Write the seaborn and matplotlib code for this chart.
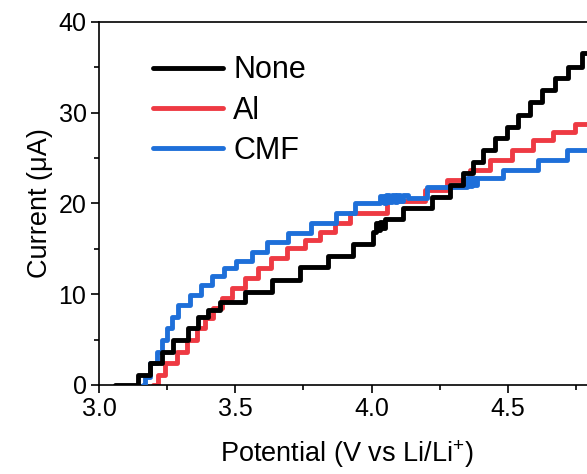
import matplotlib
matplotlib.use("Agg")
import matplotlib.pyplot as plt
import seaborn as sns
import numpy as np
import pandas as pd
from matplotlib.ticker import MultipleLocator, FormatStrFormatter

# ---- data ----
series_names = ["None", "Al", "CMF"]

none_v = [3.059, 3.143, 3.187, 3.231, 3.272, 3.327, 3.363, 3.400, 3.444, 3.536,
          3.635, 3.738, 3.840, 3.932, 4.006, 4.018, 4.024, 4.032, 4.038, 4.050,
          4.116, 4.222, 4.288, 4.336, 4.372, 4.409, 4.453, 4.497, 4.538, 4.582,
          4.626, 4.673, 4.721, 4.772, 4.85]
none_i = [0.0, 1.1, 2.4, 3.6, 5.0, 6.3, 7.5, 8.3, 9.1, 10.2,
          11.6, 13.0, 14.2, 15.5, 16.9, 17.9, 17.1, 18.0, 17.3, 18.3,
          19.5, 20.7, 22.0, 23.4, 24.6, 25.9, 27.2, 28.4, 29.8, 31.2,
          32.5, 33.8, 35.0, 36.6, 36.6]

al_v = [3.198, 3.217, 3.242, 3.286, 3.323, 3.360, 3.389, 3.418, 3.451, 3.488,
        3.536, 3.583, 3.631, 3.690, 3.756, 3.811, 3.866, 3.921, 4.057, 4.196,
        4.277, 4.361, 4.435, 4.516, 4.593, 4.666, 4.747, 4.85]
al_i = [0.0, 1.1, 2.4, 3.6, 5.0, 6.3, 7.4, 8.5, 9.6, 10.7,
        11.8, 12.9, 14.0, 15.1, 16.0, 16.9, 17.8, 18.9, 20.3, 21.5,
        22.6, 23.7, 24.8, 25.9, 27.0, 27.9, 28.8, 28.8]

cmf_v = [3.161, 3.169, 3.187, 3.213, 3.231, 3.250, 3.268, 3.290, 3.334, 3.374,
         3.415, 3.459, 3.503, 3.561, 3.617, 3.694, 3.778, 3.870, 3.939, 4.031,
         4.045, 4.055, 4.065, 4.075, 4.085, 4.095, 4.105, 4.115, 4.134, 4.204,
         4.350, 4.360, 4.370, 4.378, 4.387, 4.483, 4.611, 4.717, 4.85]
cmf_i = [0.0, 0.9, 2.4, 3.6, 5.0, 6.3, 7.5, 8.8, 9.9, 11.0,
         12.0, 12.9, 13.7, 14.7, 15.8, 16.7, 17.9, 18.9, 20.0, 20.8,
         20.1, 20.9, 20.2, 20.9, 20.2, 20.9, 20.3, 20.9, 20.6, 21.8,
         22.8, 21.9, 22.8, 22.0, 22.8, 23.7, 24.8, 25.9, 25.9]

x_ticks = [3.0, 3.5, 4.0, 4.5]
y_ticks = [0, 10, 20, 30, 40]

colors = {"None": "#000000", "Al": "#EE3A43", "CMF": "#1E6FD9"}

# ---- style ----
sns.set_theme(style="ticks")
plt.rcParams['font.family'] = ['Liberation Sans', 'DejaVu Sans']
plt.rcParams['mathtext.fontset'] = 'custom'
plt.rcParams['mathtext.rm'] = 'Liberation Sans'
plt.rcParams['mathtext.it'] = 'Liberation Sans:italic'
plt.rcParams['mathtext.bf'] = 'Liberation Sans:bold'

W, H = 587, 474
XMAX = 4.82
fig = plt.figure(figsize=(W / 100, H / 100), dpi=100)
ax = fig.add_axes([99 / W, 89 / H, (XMAX - 3.0) * 272.5 / W, 363 / H])

lw = 3.5
data = {
    "None": (none_v, none_i, 4),
    "Al": (al_v, al_i, 2),
    "CMF": (cmf_v, cmf_i, 3),
}
handles = {}
for name in ["Al", "CMF", "None"]:
    v, i, z = data[name]
    df = pd.DataFrame({"V": v, "I": i})
    sns.lineplot(data=df, x="V", y="I", ax=ax, color=colors[name], lw=lw,
                 drawstyle="steps-post", estimator=None, sort=False,
                 zorder=z, label=name)
    handles[name] = ax.lines[-1]

ax.set_xlim(3.0, XMAX)
ax.set_ylim(0, 40)
ax.set_xticks(x_ticks)
ax.set_yticks(y_ticks)
ax.xaxis.set_minor_locator(MultipleLocator(0.25))
ax.yaxis.set_minor_locator(MultipleLocator(5))
ax.xaxis.set_major_formatter(FormatStrFormatter('%.1f'))

ax.tick_params(which='major', direction='out', length=6, width=1.2,
               labelsize=18, pad=3, color='black', labelcolor='black')
ax.tick_params(which='minor', direction='out', length=3.5, width=1.2,
               color='black')

for s in ['left', 'bottom', 'top']:
    ax.spines[s].set_visible(True)
    ax.spines[s].set_linewidth(1.2)
    ax.spines[s].set_color('black')
ax.spines['right'].set_visible(False)

ax.set_xlabel("Potential (V vs Li/Li$^{+}$)", fontsize=19.5, labelpad=12,
              color='black')
ax.set_ylabel("Current (\u03bcA)", fontsize=19.5, labelpad=4, color='black')

leg = ax.legend([handles[n] for n in series_names], series_names,
                loc='upper left', bbox_to_anchor=(54 / ((XMAX - 3.0) * 272.5), 0.908),
                frameon=False, fontsize=22, handlelength=2.29,
                handletextpad=0.33, labelspacing=0.34, borderpad=0,
                borderaxespad=0)
for t in leg.get_texts():
    t.set_color('black')

fig.savefig("out.png", dpi=100)
